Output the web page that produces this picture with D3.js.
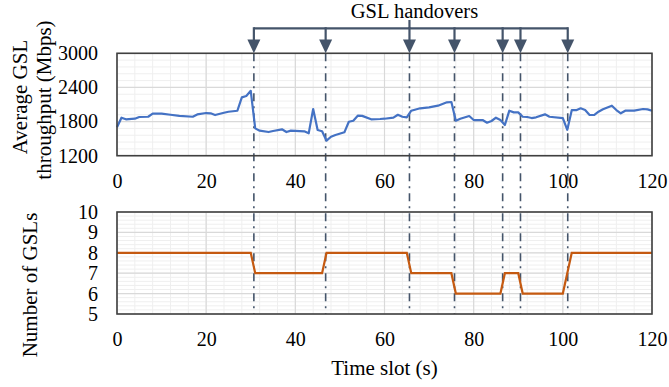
<!DOCTYPE html>
<html>
<head>
<meta charset="utf-8">
<script src="https://cdn.jsdelivr.net/npm/d3@7"></script>
<style>
  body { margin: 0; background: #fff; }
  svg, svg text { font-family: "Liberation Serif", "Times New Roman", serif; }
</style>
</head>
<body>
<div id="chart"></div>
<script>
// Data
const tputTime = [0, 1, 2, 4, 5, 7, 8, 10, 12, 14, 17, 18, 20, 21, 22, 24, 25, 27, 28, 29, 30,
  31, 32, 34, 35, 37, 38, 39, 42, 43, 44, 45, 46, 47, 48, 49, 51, 52, 53, 54, 55, 57, 59, 60,
  62, 63, 64, 65, 66, 68, 70, 72, 74, 75, 76, 77, 79, 80, 82, 83, 84, 85, 86, 87, 88, 89, 90,
  91, 92, 93, 94, 96, 97, 100, 101, 102, 103, 104, 105, 106, 107, 108, 109, 111, 112, 113, 114,
  116, 118, 119, 120];
const tputValue = [1700, 1868, 1840, 1850, 1880, 1885, 1940, 1940, 1920, 1900, 1885, 1925, 1950, 1945, 1915, 1955, 1973, 1990, 2226, 2250, 2340,
  1680, 1640, 1616, 1634, 1664, 1616, 1640, 1629, 1593, 2021, 1651, 1629, 1464, 1534, 1563, 1611, 1797, 1815, 1903, 1900, 1840, 1845, 1850,
  1868, 1920, 1885, 1875, 1991, 2033, 2050, 2079, 2139, 2144, 1815, 1850, 1898, 1827, 1827, 1780, 1810, 1868, 1827, 1740, 1991, 1962, 1962,
  1885, 1880, 1862, 1875, 1927, 1885, 1862, 1655, 2000, 2000, 2033, 2003, 1915, 1915, 1973, 2015, 2079, 2003, 1945, 1991,
  1991, 2021, 2015, 1991];

const gslTime  = [0, 30, 31, 46, 47, 65, 66, 75, 76, 86, 87, 90, 91, 100, 102, 120];
const gslCount = [8, 8, 7, 7, 8, 8, 7, 7, 6, 6, 7, 7, 6, 6, 8, 8];

const handovers = [30.7, 46.8, 65.6, 75.7, 86.5, 90.5, 101.1];

const xTicks = [0, 20, 40, 60, 80, 100, 120];
const tputTicks = [1200, 1800, 2400, 3000];
const gslTicks = [5, 6, 7, 8, 9, 10];

// Layout
const width = 669, height = 387;
const left = 117, right = 652;
const top1 = 53.3, bottom1 = 155.7;
const top2 = 212, bottom2 = 314;
const edge = "#44546a";
const serif = "Liberation Serif";

const svg = d3.select("#chart").append("svg")
  .attr("width", width)
  .attr("height", height);

const x = d3.scaleLinear().domain([0, 120]).range([left, right]);
const y1 = d3.scaleLinear().domain([1200, 3000]).range([bottom1, top1]);
const y2 = d3.scaleLinear().domain([5, 10]).range([bottom2, top2]);

function panel(y, minorStep, yTicks) {
  const g = svg.append("g");
  const [y0, yEnd] = y.domain();
  const [b, t] = y.range();
  // minor grid
  g.selectAll(".vminor").data(d3.range(0, 121, 4)).enter().append("line")
    .attr("x1", d => x(d)).attr("x2", d => x(d))
    .attr("y1", t).attr("y2", b)
    .attr("stroke", "#efefef").attr("stroke-width", 1);
  const hMinor = d3.range(0, Math.round((yEnd - y0) / minorStep) + 1).map(i => y0 + i * minorStep);
  g.selectAll(".hminor").data(hMinor).enter().append("line")
    .attr("x1", left).attr("x2", right)
    .attr("y1", d => y(d)).attr("y2", d => y(d))
    .attr("stroke", "#efefef").attr("stroke-width", 1);
  // major grid
  g.selectAll(".vmajor").data(xTicks).enter().append("line")
    .attr("x1", d => x(d)).attr("x2", d => x(d))
    .attr("y1", t).attr("y2", b)
    .attr("stroke", "#d9d9d9").attr("stroke-width", 1.2);
  g.selectAll(".hmajor").data(yTicks).enter().append("line")
    .attr("x1", left).attr("x2", right)
    .attr("y1", d => y(d)).attr("y2", d => y(d))
    .attr("stroke", "#d9d9d9").attr("stroke-width", 1.2);

  // y axis labels
  const ya = g.append("g")
    .attr("transform", "translate(" + left + ",0)")
    .call(d3.axisLeft(y).tickValues(yTicks).tickFormat(d3.format("d")).tickSize(0).tickPadding(19));
  ya.attr("font-family", serif).attr("font-size", 20);
  ya.select(".domain").remove();
  ya.selectAll("text").attr("fill", "#000");

  // x axis labels
  const xa = g.append("g")
    .attr("transform", "translate(0," + b + ")")
    .call(d3.axisBottom(x).tickValues(xTicks).tickFormat(d3.format("d")).tickSize(0).tickPadding(18));
  xa.attr("font-family", serif).attr("font-size", 20);
  xa.select(".domain").remove();
  xa.selectAll("text").attr("fill", "#000");
  return g;
}

panel(y1, 120, tputTicks);
panel(y2, 0.2, gslTicks);

// Handover vertical lines
svg.append("g").selectAll("line").data(handovers).enter().append("line")
  .attr("x1", d => x(d)).attr("x2", d => x(d))
  .attr("y1", top1).attr("y2", bottom2)
  .attr("stroke", edge).attr("stroke-width", 1.6)
  .attr("stroke-dasharray", "8,5,2,5");

// Series lines
svg.append("path")
  .datum(d3.zip(tputTime, tputValue))
  .attr("fill", "none")
  .attr("stroke", "#4472c4")
  .attr("stroke-width", 2.2)
  .attr("stroke-linejoin", "round")
  .attr("d", d3.line().x(d => x(d[0])).y(d => y1(d[1])));

svg.append("path")
  .datum(d3.zip(gslTime, gslCount))
  .attr("fill", "none")
  .attr("stroke", "#c55a11")
  .attr("stroke-width", 2.2)
  .attr("d", d3.line().x(d => x(d[0])).y(d => y2(d[1])));

// Panel borders
[[top1, bottom1], [top2, bottom2]].forEach(([t, b]) => {
  svg.append("rect")
    .attr("x", left).attr("y", t)
    .attr("width", right - left).attr("height", b - t)
    .attr("fill", "none").attr("stroke", "#404040").attr("stroke-width", 1.6);
});

// Handover arrows and bracket
const barY = 28.3, headTop = 39.5;
const ann = svg.append("g");
ann.append("line")
  .attr("x1", x(handovers[0])).attr("x2", x(handovers[handovers.length - 1]))
  .attr("y1", barY).attr("y2", barY)
  .attr("stroke", edge).attr("stroke-width", 2.2);
ann.append("line")
  .attr("x1", x(handovers[2])).attr("x2", x(handovers[2]))
  .attr("y1", 20).attr("y2", barY)
  .attr("stroke", edge).attr("stroke-width", 2.2);
ann.selectAll(".shaft").data(handovers).enter().append("line")
  .attr("x1", d => x(d)).attr("x2", d => x(d))
  .attr("y1", barY - 1.1).attr("y2", headTop + 1)
  .attr("stroke", edge).attr("stroke-width", 2.2);
ann.selectAll(".head").data(handovers).enter().append("path")
  .attr("d", d => "M" + (x(d) - 6.5) + "," + headTop + "L" + (x(d) + 6.5) + "," + headTop + "L" + x(d) + "," + top1 + "Z")
  .attr("fill", edge);
ann.append("text")
  .attr("x", 414.5).attr("y", 18)
  .attr("text-anchor", "middle")
  .attr("font-size", 20.5)
  .text("GSL handovers");

// Axis titles
svg.append("text")
  .attr("transform", "translate(27,97) rotate(-90)")
  .attr("text-anchor", "middle").attr("font-size", 21)
  .text("Average GSL");
svg.append("text")
  .attr("transform", "translate(51,100) rotate(-90)")
  .attr("text-anchor", "middle").attr("font-size", 21)
  .text("throughput (Mbps)");
svg.append("text")
  .attr("transform", "translate(37,285) rotate(-90)")
  .attr("text-anchor", "middle").attr("font-size", 21)
  .text("Number of GSLs");
svg.append("text")
  .attr("x", (left + right) / 2).attr("y", 375)
  .attr("text-anchor", "middle").attr("font-size", 21)
  .text("Time slot (s)");
</script>
</body>
</html>
